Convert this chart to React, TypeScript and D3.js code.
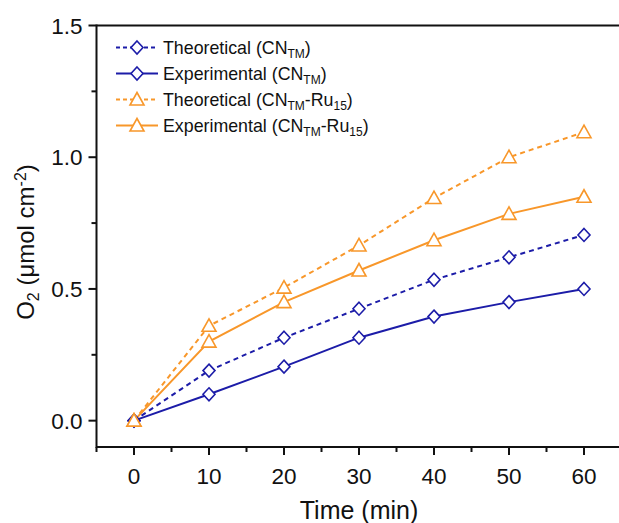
import React, { useEffect, useRef } from 'react';
import * as d3 from 'd3';

const times = [0, 10, 20, 30, 40, 50, 60];
const theoCN = [0, 0.19, 0.315, 0.425, 0.535, 0.62, 0.705];
const expCN = [0, 0.1, 0.205, 0.315, 0.395, 0.45, 0.5];
const theoRu = [0, 0.36, 0.505, 0.665, 0.845, 1.0, 1.095];
const expRu = [0, 0.3, 0.45, 0.57, 0.685, 0.785, 0.85];
const xTicks = [0, 10, 20, 30, 40, 50, 60];
const yTicks = [0, 0.5, 1.0, 1.5];

const BLUE = '#1c1ca8';
const ORANGE = '#f8972a';
const FONT = 'Liberation Sans, Arial, sans-serif';

const width = 619;
const height = 523;

export default function App() {
  const svgRef = useRef<SVGSVGElement>(null);

  useEffect(() => {
    const svg = d3.select(svgRef.current);
    svg.selectAll('*').remove();

    const x = d3.scaleLinear().domain([-5, 65]).range([96.5, 621.5]);
    const y = d3.scaleLinear().domain([-0.1, 1.5]).range([447, 25.5]);

    const series = [
      { name: 'Theoretical', sub: 'TM', ru: false, values: theoCN, color: BLUE, dash: '5,4', marker: 'diamond' },
      { name: 'Experimental', sub: 'TM', ru: false, values: expCN, color: BLUE, dash: null, marker: 'diamond' },
      { name: 'Theoretical', sub: 'TM', ru: true, values: theoRu, color: ORANGE, dash: '5,4', marker: 'triangle' },
      { name: 'Experimental', sub: 'TM', ru: true, values: expRu, color: ORANGE, dash: null, marker: 'triangle' },
    ];

    const diamond = 'M0,-6.5L6,0L0,6.5L-6,0Z';
    const triangle = 'M0,-7L7,5.5L-7,5.5Z';

    // axes
    const xAxis = svg.append('g').attr('transform', `translate(0,${y(-0.1)})`);
    xAxis.append('line').attr('x1', x(-5)).attr('x2', width).attr('stroke', '#111').attr('stroke-width', 2);
    d3.range(-5, 66, 5).forEach(t => {
      const major = t % 10 === 0;
      xAxis.append('line').attr('x1', x(t)).attr('x2', x(t)).attr('y1', 0).attr('y2', major ? 8 : 5)
        .attr('stroke', '#111').attr('stroke-width', 2);
    });
    xTicks.forEach(t => {
      xAxis.append('text').attr('x', x(t)).attr('y', 37).attr('text-anchor', 'middle')
        .attr('font-family', FONT).attr('font-size', 22.5).attr('fill', '#111').text(t);
    });

    svg.append('line').attr('x1', x(-5)).attr('x2', width).attr('y1', y(1.5)).attr('y2', y(1.5))
      .attr('stroke', '#111').attr('stroke-width', 2);

    const yAxis = svg.append('g').attr('transform', `translate(${x(-5)},0)`);
    yAxis.append('line').attr('y1', y(-0.1) + 1).attr('y2', y(1.5) - 1).attr('stroke', '#111').attr('stroke-width', 2);
    d3.range(0, 1.51, 0.25).forEach(t => {
      const major = Math.abs(t * 2 - Math.round(t * 2)) < 1e-6;
      yAxis.append('line').attr('x1', 0).attr('x2', major ? -8 : -5).attr('y1', y(t)).attr('y2', y(t))
        .attr('stroke', '#111').attr('stroke-width', 2);
    });
    yTicks.forEach(t => {
      yAxis.append('text').attr('x', -14).attr('y', y(t)).attr('dy', '0.36em').attr('text-anchor', 'end')
        .attr('font-family', FONT).attr('font-size', 22.5).attr('fill', '#111').text(d3.format('.1f')(t));
    });

    // axis titles
    svg.append('text').attr('x', 359).attr('y', 519).attr('text-anchor', 'middle')
      .attr('font-family', FONT).attr('font-size', 25).attr('fill', '#111').text('Time (min)');

    const yt = svg.append('text').attr('transform', `translate(34,242) rotate(-90)`).attr('text-anchor', 'middle')
      .attr('font-family', FONT).attr('font-size', 24).attr('fill', '#111');
    yt.append('tspan').text('O');
    yt.append('tspan').attr('font-size', 16).attr('dy', 5).text('2');
    yt.append('tspan').attr('dy', -5).text(' (μmol cm');
    yt.append('tspan').attr('font-size', 16).attr('dy', -8).text('-2');
    yt.append('tspan').attr('dy', 8).text(')');

    // lines and markers
    const line = d3.line<number>().x((d, i) => x(times[i])).y(d => y(d));
    series.forEach(s => {
      svg.append('path').attr('d', line(s.values)).attr('fill', 'none').attr('stroke', s.color)
        .attr('stroke-width', 2).attr('stroke-dasharray', s.dash);
    });
    series.forEach(s => {
      svg.selectAll(null).data(s.values).enter().append('path')
        .attr('d', s.marker === 'diamond' ? diamond : triangle)
        .attr('transform', (d, i) => `translate(${x(times[i])},${y(d)})`)
        .attr('fill', 'white').attr('stroke', s.color).attr('stroke-width', 1.6);
    });

    // legend
    const lg = svg.append('g');
    series.forEach((s, i) => {
      const cy = 47.5 + i * 26;
      lg.append('line').attr('x1', 116).attr('x2', 158).attr('y1', cy).attr('y2', cy)
        .attr('stroke', s.color).attr('stroke-width', 2).attr('stroke-dasharray', s.dash ? '4,3' : null);
      lg.append('path').attr('d', s.marker === 'diamond' ? diamond : triangle)
        .attr('transform', `translate(137,${cy})`)
        .attr('fill', 'white').attr('stroke', s.color).attr('stroke-width', 1.6);
      const t = lg.append('text').attr('x', 163).attr('y', cy).attr('dy', '0.35em')
        .attr('font-family', FONT).attr('font-size', 17.8).attr('fill', '#111');
      t.append('tspan').text(`${s.name} (CN`);
      t.append('tspan').attr('font-size', 12).attr('dy', 4).text(s.sub);
      if (s.ru) {
        t.append('tspan').attr('dy', -4).text('-Ru');
        t.append('tspan').attr('font-size', 12).attr('dy', 4).text('15');
      }
      t.append('tspan').attr('dy', -4).text(')');
    });
  }, []);

  return (
    <svg ref={svgRef} width={width} height={height}
      style={{ position: 'absolute', left: 0, top: 0, background: 'white' }} />
  );
}
